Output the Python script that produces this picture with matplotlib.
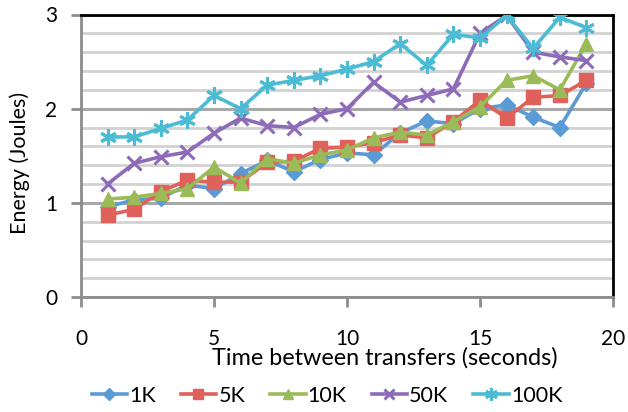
import matplotlib
matplotlib.use("Agg")
import matplotlib.pyplot as plt
from matplotlib.ticker import MultipleLocator

plt.rcParams['font.family'] = ['Lato', 'DejaVu Sans']

# Interval between transfers (seconds)
intervals = list(range(1, 20))

# Energy consumed (Joules) per transfer size
energy_1k = [0.96, 1.03, 1.05, 1.19, 1.15, 1.31, 1.45, 1.33, 1.46, 1.53,
             1.51, 1.74, 1.87, 1.84, 2.00, 2.04, 1.91, 1.80, 2.27]
energy_5k = [0.87, 0.93, 1.12, 1.24, 1.22, 1.22, 1.43, 1.44, 1.58, 1.59,
             1.64, 1.72, 1.69, 1.86, 2.09, 1.90, 2.12, 2.14, 2.30]
energy_10k = [1.04, 1.06, 1.10, 1.15, 1.38, 1.21, 1.47, 1.42, 1.51, 1.56,
              1.69, 1.75, 1.72, 1.86, 2.02, 2.30, 2.35, 2.20, 2.69]
energy_50k = [1.20, 1.42, 1.49, 1.54, 1.74, 1.90, 1.82, 1.80, 1.94, 2.00,
              2.28, 2.07, 2.14, 2.21, 2.80, 2.99, 2.60, 2.55, 2.51]
energy_100k = [1.70, 1.70, 1.79, 1.88, 2.14, 2.00, 2.25, 2.30, 2.35, 2.42,
               2.50, 2.69, 2.46, 2.79, 2.75, 2.99, 2.64, 2.97, 2.86]

series_labels = ['1K', '5K', '10K', '50K', '100K']
x_ticks = [0, 5, 10, 15, 20]
y_ticks = [0, 1, 2, 3]

fig = plt.figure(figsize=(6.28, 4.12), dpi=100)
ax = fig.add_axes([81 / 628, 1 - 297 / 412, 532 / 628, 282.5 / 412])

styles = [
    dict(color='#5B9BD5', marker='D', markersize=8),
    dict(color='#E0605A', marker='s', markersize=10),
    dict(color='#9BBB59', marker='^', markersize=10),
    dict(color='#8E6BB8', marker='x', markersize=10, markeredgewidth=2.2),
    dict(color='#4BBCD4', marker=(6, 2, 0), markersize=12, markeredgewidth=2.2),
]
all_series = [energy_1k, energy_5k, energy_10k, energy_50k, energy_100k]

for vals, lab, st in zip(all_series, series_labels, styles):
    ax.plot(intervals, vals, label=lab, linewidth=2.6, zorder=3,
            markeredgecolor=st['color'], **st)

ax.set_xlim(0, 20)
ax.set_ylim(0, 3)
ax.set_xticks(x_ticks)
ax.set_yticks(y_ticks)
ax.yaxis.set_minor_locator(MultipleLocator(0.2))

ax.grid(axis='y', which='minor', color='#d2d2d2', linewidth=2.0, zorder=0)
ax.grid(axis='y', which='major', color='#a8a8a8', linewidth=2.2, zorder=0)
ax.set_axisbelow(True)

for side in ('top', 'right'):
    ax.spines[side].set_color('black')
    ax.spines[side].set_linewidth(2.0)
for side in ('left', 'bottom'):
    ax.spines[side].set_color('#8c8c8c')
    ax.spines[side].set_linewidth(2.0)

ax.tick_params(axis='both', which='major', direction='out', color='#8c8c8c',
               width=2.0, length=7, labelsize=15)
ax.tick_params(axis='x', pad=16)
ax.tick_params(axis='y', pad=10)
ax.tick_params(axis='y', which='minor', length=0)

fig.text(385 / 628, 1 - 358 / 412, 'Time between transfers (seconds)',
         ha='center', va='center', fontsize=16.8)
fig.text(20 / 628, 1 - 163 / 412, 'Energy (Joules)', rotation=90,
         ha='center', va='center', fontsize=15.5)

handles, labels = ax.get_legend_handles_labels()
fig.legend(handles, labels, loc='center', ncol=5,
           bbox_to_anchor=(327 / 628, 1 - 396 / 412), frameon=False,
           fontsize=15.5, handlelength=1.65, handletextpad=0.1,
           columnspacing=1.15, borderaxespad=0, borderpad=0, markerscale=0.75)

fig.savefig('out.png', dpi=100)
